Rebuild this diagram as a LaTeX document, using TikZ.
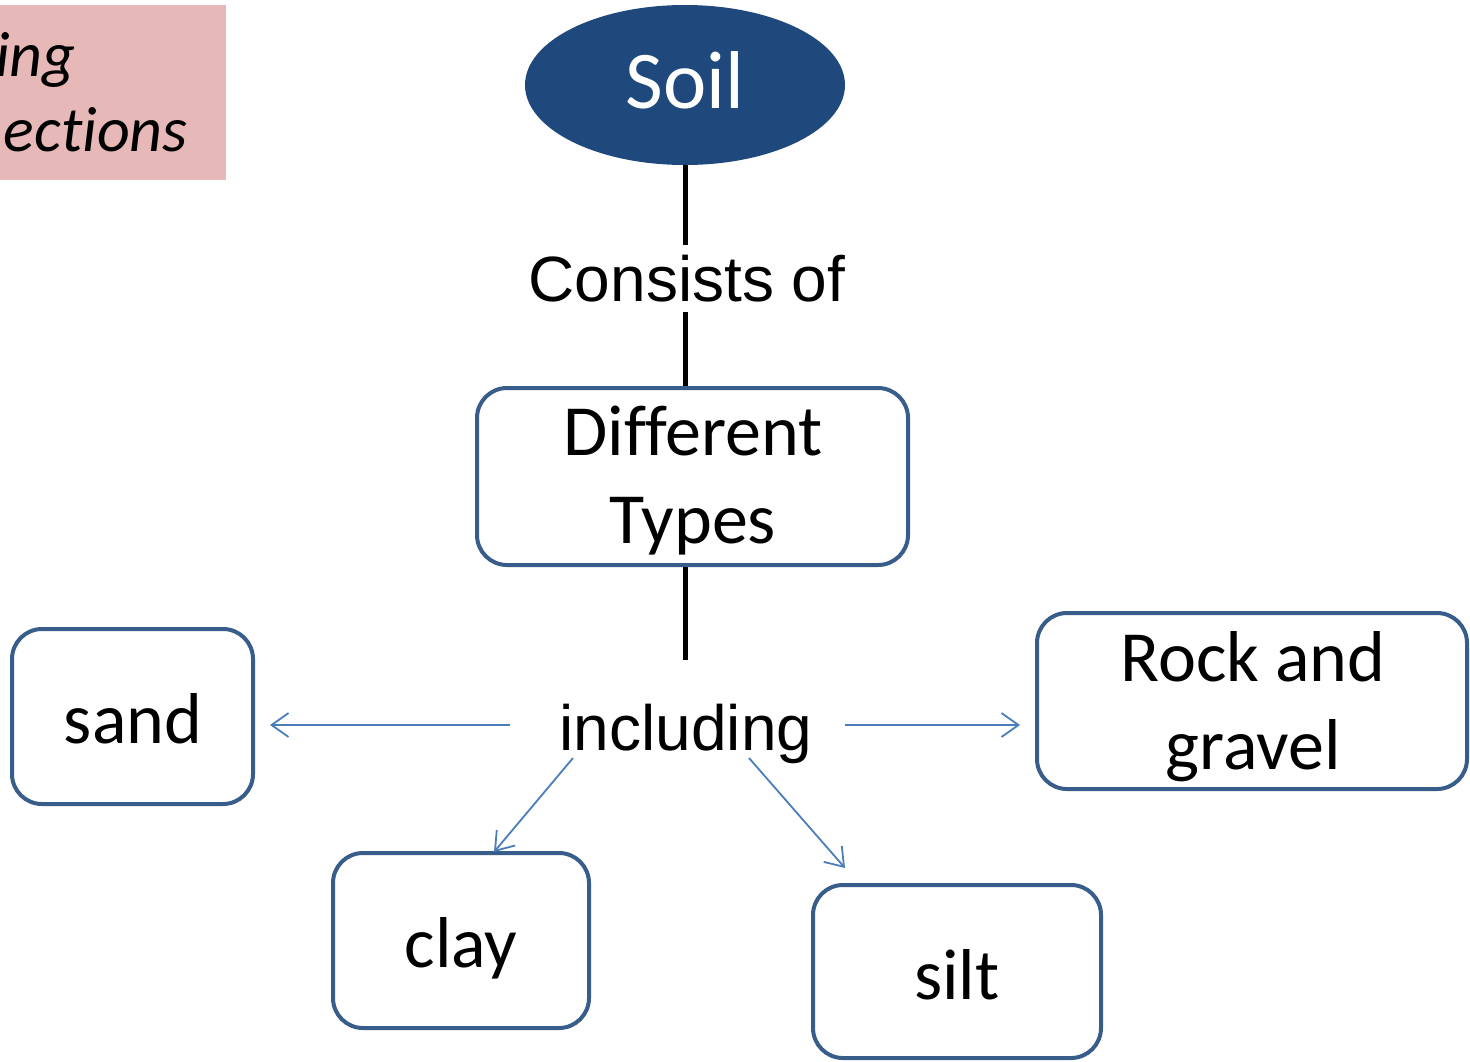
\documentclass[tikz,border=0pt]{standalone}
\usepackage{fontspec}
\newfontfamily\calfont[Ligatures=NoCommon]{Carlito}
\newfontfamily\arialfont{Liberation Sans}
\usetikzlibrary{arrows.meta,shapes.geometric}
\definecolor{soilblue}{HTML}{1F497D}
\definecolor{boxline}{HTML}{385D8A}
\definecolor{arrowblue}{HTML}{4A7EBB}
\definecolor{pinkbg}{HTML}{E6B9B8}
\begin{document}
\begin{tikzpicture}[x=1pt,y=-1pt,
  conceptbox/.style={draw=boxline, line width=4pt, rounded corners=30pt, inner sep=0pt},
  boxtext/.style={font=\calfont\fontsize{72}{88}\selectfont, inner sep=0pt, align=center},
  linktext/.style={font=\arialfont\fontsize{64}{76}\selectfont, inner sep=0pt},
  stem/.style={line width=5pt, black},
  arr/.style={draw=arrowblue, line width=1.8pt, -{Straight Barb[length=17pt,width=24pt,line width=1.8pt]}}
]
\useasboundingbox (0,0) rectangle (1470,1061);

% title tab in the corner, cut off at the left edge
\begin{scope}
  \clip (0,5) rectangle (226,180);
  \fill[pinkbg] (0,5) rectangle (226,180);
  \node[anchor=base east, inner sep=0pt, font=\calfont\itshape\fontsize{64}{74}\selectfont] (tab1) at (76,76) {ing};
  \node[anchor=base east, inner sep=0pt, font=\calfont\itshape\fontsize{64}{74}\selectfont] (tab2) at (188,151) {ections};
\end{scope}

% top concept
\node[ellipse, fill=soilblue, minimum width=320pt, minimum height=160pt, inner sep=0pt] (soil) at (685,85) {};
\node[anchor=base, inner sep=0pt, text=white, font=\calfont\fontsize{82}{96}\selectfont] (soil-t) at (685,108) {Soil};

% concept boxes
\node[conceptbox, minimum width=431pt, minimum height=177pt] (types) at (692.5,476.5) {};
\node[boxtext] (types-t) at (693,481) {Different\\Types};

\node[conceptbox, minimum width=241pt, minimum height=175pt] (sand) at (132.5,716.5) {};
\node[boxtext, anchor=base] (sand-t) at (133,743) {sand};

\node[conceptbox, minimum width=430pt, minimum height=176pt] (rock) at (1252,701) {};
\node[boxtext] (rock-t) at (1253,707) {Rock and\\gravel};

\node[conceptbox, minimum width=256pt, minimum height=175pt] (clay) at (461,940.5) {};
\node[boxtext, anchor=base] (clay-t) at (461,967) {clay};

\node[conceptbox, minimum width=288pt, minimum height=173pt] (silt) at (957,971.5) {};
\node[boxtext, anchor=base] (silt-t) at (957,999) {silt};

% link from Soil to Different Types (vertical through the ellipse centre)
\draw[stem] (soil.south) -- (soil.south |- types.north);
\node[linktext, anchor=base, fill=white, inner ysep=10pt] (consists) at (687,301) {Consists of};

% link from Different Types down to the branching word
\coordinate (stem-end) at (685,660);
\draw[stem] (stem-end |- types.south) -- (stem-end);
\node[linktext, anchor=base] (including) at (686,750) {including};

% branches
\coordinate (b-sand) at (510,725);
\coordinate (e-sand) at (270,725);
\coordinate (b-rock) at (845,725);
\coordinate (e-rock) at (1020,725);
\coordinate (b-clay) at (573,758);
\coordinate (e-clay) at (494,852);
\coordinate (b-silt) at (749,758);
\coordinate (e-silt) at (845,868);
\draw[arr] (b-sand) -- (e-sand);
\draw[arr] (b-rock) -- (e-rock);
\draw[arr] (b-clay) -- (e-clay);
\draw[arr] (b-silt) -- (e-silt);
\end{tikzpicture}
\end{document}
